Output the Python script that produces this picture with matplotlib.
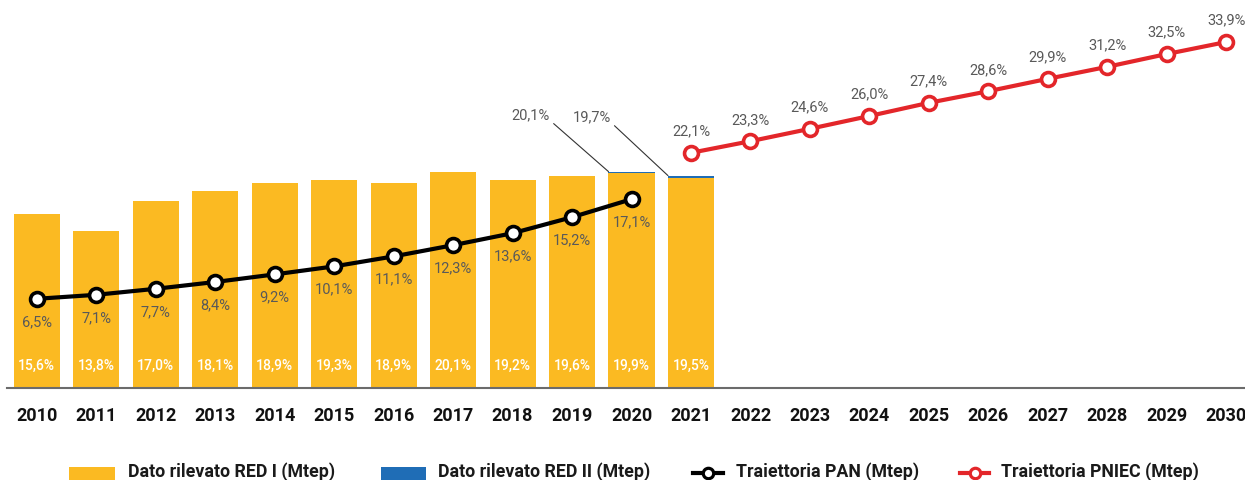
import matplotlib
matplotlib.use("Agg")
import matplotlib.pyplot as plt
from matplotlib.patches import Rectangle
from matplotlib.lines import Line2D

plt.rcParams['font.family'] = ['Roboto', 'DejaVu Sans']

# ---- data ----
years = [str(y) for y in range(2010, 2031)]
red1_years = years[:12]                     # 2010-2021
red1_mtep = [4.35, 3.93, 4.68, 4.93, 5.13, 5.20, 5.13, 5.40, 5.20, 5.30, 5.38, 5.25]
red1_share = ["15,6%", "13,8%", "17,0%", "18,1%", "18,9%", "19,3%", "18,9%",
              "20,1%", "19,2%", "19,6%", "19,9%", "19,5%"]
red2_years = ["2020", "2021"]
red2_extra_mtep = [0.03, 0.06]
red2_share = ["20,1%", "19,7%"]

pan_years = years[:11]                      # 2010-2020
pan_mtep = [2.23, 2.33, 2.48, 2.65, 2.84, 3.04, 3.29, 3.57, 3.87, 4.27, 4.72]
pan_share = ["6,5%", "7,1%", "7,7%", "8,4%", "9,2%", "10,1%", "11,1%",
             "12,3%", "13,6%", "15,2%", "17,1%"]

pniec_years = years[11:]                    # 2021-2030
pniec_mtep = [5.88, 6.17, 6.48, 6.80, 7.13, 7.42, 7.73, 8.03, 8.35, 8.65]
pniec_share = ["22,1%", "23,3%", "24,6%", "26,0%", "27,4%", "28,6%", "29,9%",
               "31,2%", "32,5%", "33,9%"]

legend_labels = ["Dato rilevato RED I (Mtep)", "Dato rilevato RED II (Mtep)",
                 "Traiettoria PAN (Mtep)", "Traiettoria PNIEC (Mtep)"]

# ---- style ----
YELLOW = "#FBBA22"
BLUE = "#1F6DB6"
RED = "#E3262A"
BLACK = "#000000"
GRAY = "#595959"

W, H = 1245, 481
fig = plt.figure(figsize=(W / 100, H / 100), dpi=100)
ax = fig.add_axes([7 / W, 92 / H, 1249 / W, 389 / H])

idx = {y: i for i, y in enumerate(years)}
bw = 0.774

x1 = [idx[y] for y in red1_years]
ax.bar(x1, red1_mtep, width=bw, color=YELLOW, zorder=2)
x2 = [idx[y] for y in red2_years]
base2 = [red1_mtep[idx[y]] for y in red2_years]
ax.bar(x2, red2_extra_mtep, bottom=base2, width=bw, color=BLUE, zorder=2)

for xi, v, s in zip(x1, red1_mtep, red1_share):
    ax.annotate(s, (xi, 0), xytext=(0, 16.5), textcoords="offset points",
                ha="center", va="center", color="white", fontsize=10,
                fontweight="medium", zorder=5)

# RED II annotations with leader lines
red2_offsets = [(-56, 41), (-55, 42.5)]
for y, b, e, s, off in zip(red2_years, base2, red2_extra_mtep, red2_share, red2_offsets):
    xi = idx[y]
    ax.annotate(s, (xi - bw / 2, b + e), xytext=off, textcoords="offset points",
                ha="center", va="center", color=GRAY, fontsize=10.5,
                arrowprops=dict(arrowstyle="-", color="#333333", lw=0.8,
                                shrinkA=1, shrinkB=0, relpos=(1.0, 0.1)),
                zorder=5)

xp = [idx[y] for y in pan_years]
ax.plot(xp, pan_mtep, color=BLACK, lw=3, marker="o", markersize=10,
        markerfacecolor="white", markeredgecolor=BLACK, markeredgewidth=2.6, zorder=4)
for xi, v, s in zip(xp, pan_mtep, pan_share):
    ax.annotate(s, (xi, v), xytext=(0, -16), textcoords="offset points",
                ha="center", va="center", color=GRAY, fontsize=10.5, zorder=5)

xn = [idx[y] for y in pniec_years]
ax.plot(xn, pniec_mtep, color=RED, lw=3, marker="o", markersize=10,
        markerfacecolor="white", markeredgecolor=RED, markeredgewidth=2.6, zorder=4)
for xi, v, s in zip(xn, pniec_mtep, pniec_share):
    ax.annotate(s, (xi, v), xytext=(0, 16), textcoords="offset points",
                ha="center", va="center", color=GRAY, fontsize=10.5, zorder=5)

ax.set_xlim(-0.5, len(years) - 0.5)
ax.set_ylim(0, 389 / 40)
ax.set_xticks(range(len(years)))
ax.set_xticklabels(years, fontsize=13, fontweight="bold", color="#111111")
ax.tick_params(axis="x", length=0, pad=13)
ax.set_yticks([])
for sp in ["top", "right", "left"]:
    ax.spines[sp].set_visible(False)
ax.spines["bottom"].set_color("#6b6b6b")
ax.spines["bottom"].set_linewidth(1.5)
ax.patch.set_alpha(0)

# ---- legend (drawn manually, figure pixel layout) ----
def fx(px):
    return px / W


def fy(py):
    return 1 - py / H


text_base = 477
leg_y = 474
# (kind, colour, handle x0, handle x1, text x)
legend_layout = [("patch", YELLOW, 69, 115, 128),
                 ("patch", BLUE, 381, 426, 438),
                 ("line", BLACK, 693, 723, 736),
                 ("line", RED, 960, 989, 1001)]
for (kind, col, hx0, hx1, tx), lab in zip(legend_layout, legend_labels):
    if kind == "patch":
        fig.add_artist(Rectangle((fx(hx0), fy(481)), fx(hx1) - fx(hx0), fy(468) - fy(481),
                                 transform=fig.transFigure, facecolor=col,
                                 edgecolor="none"))
    else:
        fig.add_artist(Line2D([fx(hx0), fx(hx1)], [fy(leg_y), fy(leg_y)],
                              transform=fig.transFigure, color=col, lw=3))
        fig.add_artist(Line2D([fx((hx0 + hx1) / 2)], [fy(leg_y)],
                              transform=fig.transFigure, color=col, marker="o",
                              markersize=7.5, markerfacecolor="white",
                              markeredgecolor=col, markeredgewidth=2.3))
    fig.text(fx(tx), fy(text_base), lab, ha="left", va="baseline",
             fontsize=12.8, fontweight="bold", color="#1a1a1a")

fig.savefig("out.png", dpi=100)
